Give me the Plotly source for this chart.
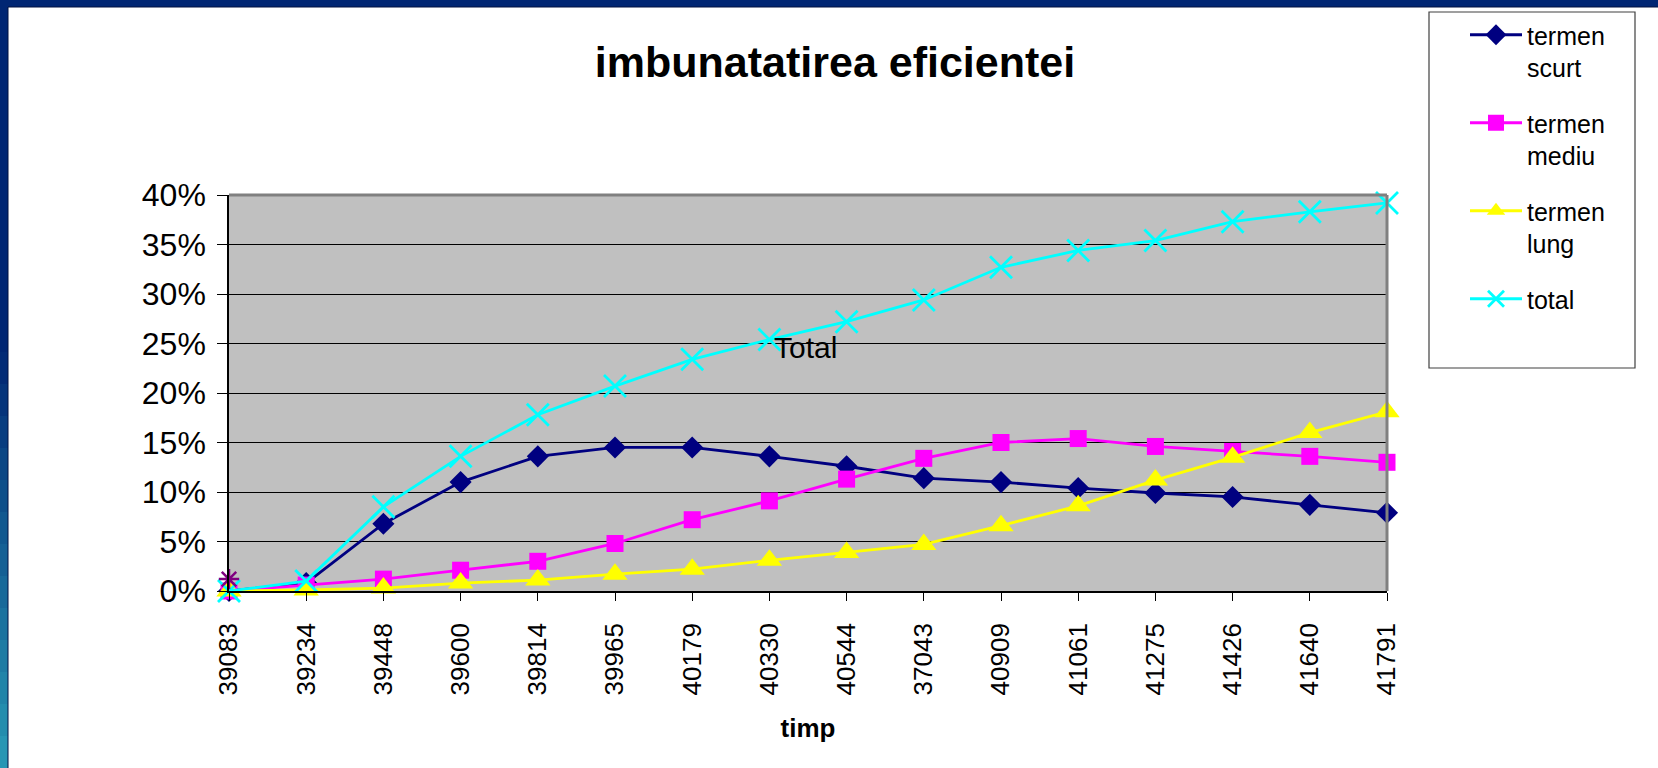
import plotly.graph_objects as go

# ---------------- data ----------------
categories = ["39083", "39234", "39448", "39600", "39814", "39965", "40179", "40330",
              "40544", "37043", "40909", "41061", "41275", "41426", "41640", "41791"]
termen_scurt = [0.0, 0.8, 6.8, 11.0, 13.6, 14.5, 14.5, 13.6, 12.6, 11.4, 11.0, 10.4, 9.9, 9.5, 8.7, 7.9]
termen_mediu = [0.0, 0.6, 1.2, 2.1, 3.0, 4.8, 7.2, 9.1, 11.3, 13.4, 15.0, 15.4, 14.6, 14.1, 13.6, 13.0]
termen_lung = [0.0, 0.1, 0.3, 0.8, 1.1, 1.7, 2.2, 3.1, 3.9, 4.7, 6.6, 8.6, 11.2, 13.5, 16.0, 18.1]
total = [0.0, 1.0, 8.5, 13.6, 17.8, 20.7, 23.4, 25.4, 27.2, 29.4, 32.7, 34.4, 35.4, 37.3, 38.3, 39.2]
extra_cat = ["39083"]
extra_val = [1.2]
y_ticks = [0, 5, 10, 15, 20, 25, 30, 35, 40]
y_ticktext = [f"{v}%" for v in y_ticks]

# ---------------- layout geometry ----------------
W, H = 1658, 768
PL, PR, PT, PB = 229, 1387, 195, 591  # plot area in pixels


def px(X, Y):
    return (X - PL) / (PR - PL), (PB - Y) / (PB - PT)


FONT = "Liberation Sans, Arial, sans-serif"

fig = go.Figure()

series = [
    ("termen<br>scurt", termen_scurt, "#000080", dict(symbol="diamond", size=17)),
    ("termen<br>mediu", termen_mediu, "#FF00FF", dict(symbol="square", size=17)),
    ("termen<br>lung", termen_lung, "#FFFF00", dict(symbol="triangle-up", size=22)),
    ("total", total, "#00FFFF", dict(symbol="x-thin-open", size=22, line=dict(width=2.8, color="#00FFFF"))),
]
for i, (name, vals, col, mk) in enumerate(series):
    fig.add_trace(go.Scatter(
        x=categories, y=vals, name=name, mode="lines+markers",
        line=dict(color=col, width=2.8),
        marker=dict(color=col, **mk),
        cliponaxis=False, legendgroup=f"g{i}",
    ))

fig.add_trace(go.Scatter(
    x=extra_cat, y=extra_val, mode="markers", showlegend=False,
    marker=dict(symbol="asterisk-open", size=17, color="#800080",
                line=dict(color="#800080", width=2.5)),
    cliponaxis=False,
))

shapes = []
# blue slide border: top band
x0, y0 = px(0, 0)
x1, y1 = px(W, 7)
shapes.append(dict(type="rect", xref="paper", yref="paper", x0=x0, x1=x1, y0=y1, y1=y0,
                   fillcolor="#002673", line=dict(width=0), layer="below"))
# left band gradient
nseg = 24
c_top = (0, 38, 115)
c_bot = (40, 150, 180)
for k in range(nseg):
    ya = k * H / nseg
    yb = (k + 1) * H / nseg
    t = max(0.0, (k / (nseg - 1) - 0.45) / 0.55)
    col = tuple(int(c_top[j] + (c_bot[j] - c_top[j]) * t) for j in range(3))
    xa, ya_p = px(0, ya)
    xb, yb_p = px(8, yb + 1)
    shapes.append(dict(type="rect", xref="paper", yref="paper", x0=xa, x1=xb, y0=yb_p, y1=ya_p,
                       fillcolor="rgb(%d,%d,%d)" % col, line=dict(width=0), layer="below"))
# thin dark inner edge
xa, ya_p = px(8, 7)
xb, yb_p = px(W, H)
shapes.append(dict(type="line", xref="paper", yref="paper", x0=xa, x1=xa, y0=yb_p, y1=ya_p,
                   line=dict(color="#001040", width=1)))
shapes.append(dict(type="line", xref="paper", yref="paper", x0=xa, x1=xb, y0=ya_p, y1=ya_p,
                   line=dict(color="#001040", width=1)))
# plot frame top and right (grey)
shapes.append(dict(type="line", xref="paper", yref="paper", x0=0, x1=1, y0=1, y1=1,
                   line=dict(color="#808080", width=3)))
shapes.append(dict(type="line", xref="paper", yref="paper", x0=1, x1=1, y0=0, y1=1,
                   line=dict(color="#808080", width=3)))
# legend box
lx0, ly0 = px(1429, 12)
lx1, ly1 = px(1635, 368)
shapes.append(dict(type="rect", xref="paper", yref="paper", x0=lx0, x1=lx1, y0=ly1, y1=ly0,
                   fillcolor="white", line=dict(color="#404040", width=1.2), layer="below"))

fig.update_layout(
    width=W, height=H,
    paper_bgcolor="white", plot_bgcolor="#C0C0C0",
    margin=dict(l=PL, r=W - PR, t=PT, b=H - PB, autoexpand=False),
    font=dict(family=FONT, color="black"),
    title=dict(text="imbunatatirea eficientei", font=dict(size=43, weight="bold", color="black"),
               xref="container", yref="container", x=835 / W, y=1 - 62 / H,
               xanchor="center", yanchor="middle"),
    showlegend=True,
    legend=dict(xref="container", yref="container", x=1465 / W, y=1 - 12 / H,
                xanchor="left", yanchor="top", bgcolor="rgba(0,0,0,0)", borderwidth=0,
                font=dict(size=25, color="black"), valign="top", tracegroupgap=20,
                itemwidth=52),
    shapes=shapes,
    annotations=[dict(text="Total", x=7.47, y=24.6, xref="x", yref="y", showarrow=False,
                      font=dict(size=30, color="black"), xanchor="center", yanchor="middle")],
)

fig.update_xaxes(
    type="category", categoryorder="array", categoryarray=categories,
    range=[0, len(categories) - 1],
    showline=True, linecolor="black", linewidth=1.5,
    ticks="outside", ticklen=8, tickcolor="black", tickwidth=1,
    tickangle=-90, tickfont=dict(size=26, color="black"), ticklabelstandoff=12,
    showgrid=False, zeroline=False,
    title=dict(text="timp", font=dict(size=26, weight="bold", color="black"), standoff=24),
)
fig.update_yaxes(
    range=[0, 40], tickvals=y_ticks, ticktext=y_ticktext,
    showline=True, linecolor="black", linewidth=1.5,
    ticks="outside", ticklen=10, tickcolor="black", ticklabelstandoff=5,
    tickfont=dict(size=32, color="black"),
    showgrid=True, gridcolor="black", gridwidth=1, zeroline=False,
)

fig.write_html("out.html", config={"displayModeBar": False},
               post_script="document.body.style.margin='0';")
